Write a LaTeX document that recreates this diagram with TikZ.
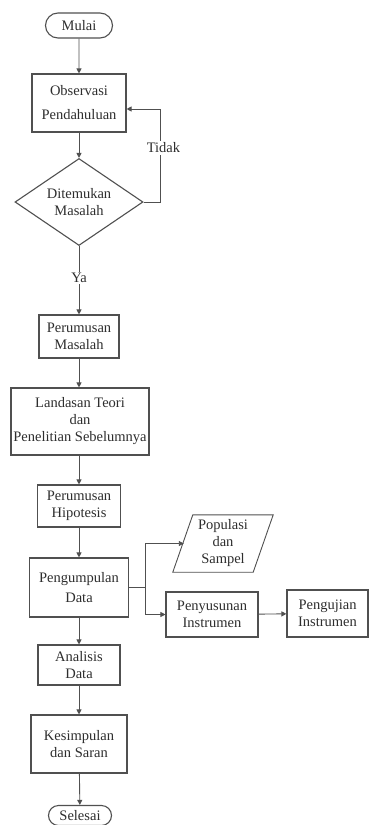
\documentclass[tikz,border=0pt]{standalone}
\usepackage{fontspec}
\setmainfont{Liberation Serif}
\usetikzlibrary{shapes.geometric,shapes.misc,arrows.meta}
\definecolor{lncol}{HTML}{505050}
\definecolor{txcol}{HTML}{2E2E2E}
\tikzset{
  base/.style={draw=lncol, line width=1.1pt, text=txcol, font=\fontsize{14.5}{17}\selectfont, align=center, inner sep=0pt},
  procbox/.style={base, rectangle},
  term/.style={base, rounded rectangle},
  decide/.style={base, diamond, shape aspect=1.47},
  plain/.style={text=txcol, font=\fontsize{14.5}{17}\selectfont, align=center, inner sep=0pt},
  lbl/.style={text=txcol, font=\fontsize{14.5}{17}\selectfont, fill=white, inner sep=1.5pt},
  arr/.style={draw=lncol, line width=0.9pt, -{Triangle[length=5pt,width=5pt]}},
  conn/.style={draw=lncol, line width=0.9pt}
}
\begin{document}
\begin{tikzpicture}[x=1pt,y=-1pt]
\useasboundingbox (0,0) rectangle (369,825);
\fill[white] (0,0) rectangle (369,825);
% main column
\node[term, minimum width=67pt, minimum height=25pt] (start) at (79,25.5) {Mulai};
\node[procbox, minimum width=94pt, minimum height=58pt] (obs) at (79,103) {Observasi\\[7pt]Pendahuluan};
\node[decide, minimum width=128pt, minimum height=87pt] (dia) at (79,202) {Ditemukan\\Masalah};
\node[procbox, minimum width=80pt, minimum height=43pt] (pm) at (79,336.5) {Perumusan\\Masalah};
\node[procbox, minimum width=138pt, minimum height=67pt] (lt) at (80,421.5) {Landasan Teori\\dan\\Penelitian Sebelumnya};
\node[procbox, minimum width=83pt, minimum height=42pt] (ph) at (79,506) {Perumusan\\Hipotesis};
\node[procbox, minimum width=99pt, minimum height=59pt] (pd) at (79,587.5) {Pengumpulan\\[3pt]Data};
\node[procbox, minimum width=82pt, minimum height=40pt] (ad) at (79,665) {Analisis\\Data};
\node[procbox, minimum width=96pt, minimum height=58pt] (ks) at (79,744) {Kesimpulan\\dan Saran};
\node[term, minimum width=63pt, minimum height=20pt] (end) at (80,815.5) {Selesai};
% side branch
\node[plain, minimum width=80pt, minimum height=57pt] (pop) at (223,543.5) {Populasi\\dan\\Sampel};
\draw[conn] ([xshift=10pt]pop.north west) -- ([xshift=10pt]pop.north east)
  -- ([xshift=-10pt]pop.south east) -- ([xshift=-10pt]pop.south west) -- cycle;
\node[procbox, minimum width=92pt, minimum height=45pt] (pny) at (212,614.5) {Penyusunan\\Instrumen};
\node[procbox, minimum width=81pt, minimum height=47pt] (pgj) at (327.5,613.5) {Pengujian\\Instrumen};
% connectors
\draw[arr] (start) -- (obs);
\draw[arr] (obs) -- (dia);
\coordinate (tk) at (160,109);
\draw[arr] (dia.east) -| (tk) -- (obs.east |- tk);
\node[lbl] (tidak) at (163.5,148) {Tidak};
\draw[arr] (dia) -- (pm);
\node[lbl] (ya) at (79,278) {Ya};
\draw[arr] (pm) -- (lt.north -| pm);
\draw[arr] (lt.south -| ph) -- (ph);
\draw[arr] (ph) -- (pd);
\draw[arr] (pd) -- (ad);
\draw[arr] (ad) -- (ks);
\draw[arr] (ks) -- (end);
\coordinate (fork) at (145,587.5);
\draw[conn] (pd.east) -- (fork);
\draw[arr] (fork) |- ([xshift=1pt]pop.west);
\draw[arr] (fork) |- (pny.west);
\draw[arr] (pny) -- (pgj);
\end{tikzpicture}
\end{document}
